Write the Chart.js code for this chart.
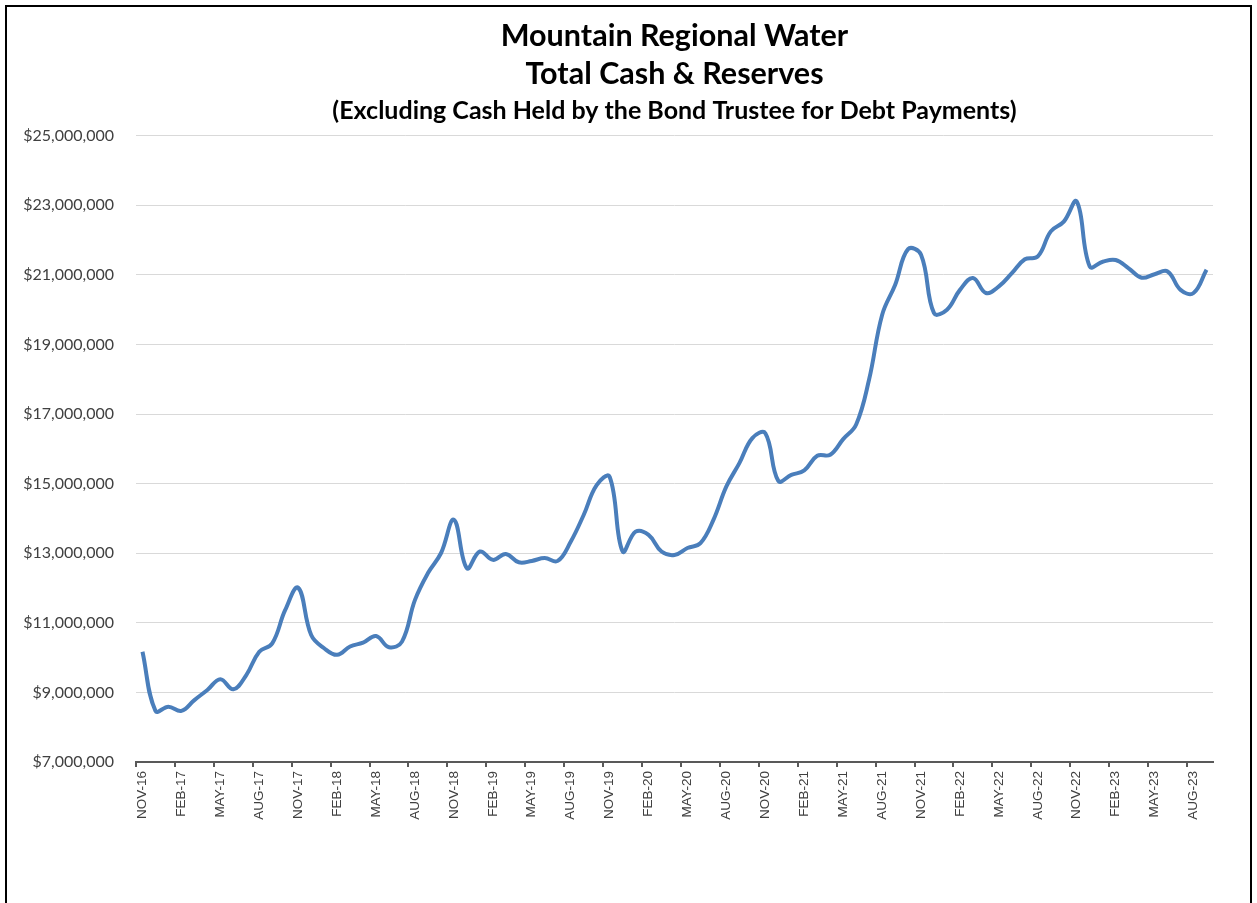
<!DOCTYPE html>
<html>
<head>
<meta charset="utf-8">
<script src="https://cdn.jsdelivr.net/npm/chart.js@4.4.1/dist/chart.umd.min.js"></script>
<style>
  body { margin: 0; background: #fff; overflow: hidden; }
  #frame { position: absolute; left: 5px; top: 5px; width: 1243px; height: 950px; border: 2px solid #000; }
  #wrap { position: absolute; left: 0; top: 0; width: 1257px; height: 903px; }
</style>
</head>
<body>
<div id="frame"></div>
<div id="wrap"><canvas id="graficoCaja"></canvas></div>
<script>
// meses (categorias)
const meses = [
  'NOV-16','DEC-16','JAN-17','FEB-17','MAR-17','APR-17','MAY-17','JUN-17','JUL-17','AUG-17','SEP-17','OCT-17',
  'NOV-17','DEC-17','JAN-18','FEB-18','MAR-18','APR-18','MAY-18','JUN-18','JUL-18','AUG-18','SEP-18','OCT-18',
  'NOV-18','DEC-18','JAN-19','FEB-19','MAR-19','APR-19','MAY-19','JUN-19','JUL-19','AUG-19','SEP-19','OCT-19',
  'NOV-19','DEC-19','JAN-20','FEB-20','MAR-20','APR-20','MAY-20','JUN-20','JUL-20','AUG-20','SEP-20','OCT-20',
  'NOV-20','DEC-20','JAN-21','FEB-21','MAR-21','APR-21','MAY-21','JUN-21','JUL-21','AUG-21','SEP-21','OCT-21',
  'NOV-21','DEC-21','JAN-22','FEB-22','MAR-22','APR-22','MAY-22','JUN-22','JUL-22','AUG-22','SEP-22','OCT-22',
  'NOV-22','DEC-22','JAN-23','FEB-23','MAR-23','APR-23','MAY-23','JUN-23','JUL-23','AUG-23','SEP-23'
];

// efectivo y reservas, en dolares
const efectivoReservas = [
  10170000, 8470000, 8590000, 8470000, 8780000, 9070000, 9380000, 9090000, 9500000, 10170000, 10410000, 11370000,
  12010000, 10650000, 10270000, 10080000, 10320000, 10430000, 10620000, 10300000, 10460000, 11660000, 12430000, 13000000,
  13960000, 12570000, 13050000, 12810000, 12980000, 12740000, 12780000, 12860000, 12780000, 13330000, 14100000, 14960000,
  15200000, 13050000, 13620000, 13530000, 13050000, 12950000, 13150000, 13290000, 13960000, 14920000, 15590000, 16310000,
  16450000, 15080000, 15250000, 15380000, 15800000, 15830000, 16280000, 16700000, 18000000, 19850000, 20710000, 21740000,
  21580000, 19900000, 20000000, 20570000, 20910000, 20480000, 20670000, 21050000, 21450000, 21530000, 22250000, 22530000,
  23110000, 21240000, 21380000, 21430000, 21190000, 20920000, 21020000, 21100000, 20570000, 20480000, 21150000
];

// eje y
const ejeYMin = 7000000;
const ejeYMax = 25000000;
const ejeYPaso = 2000000;

const titulo = ['Mountain Regional Water', 'Total Cash & Reserves'];
const subtitulo = '(Excluding Cash Held by the Bond Trustee for Debt Payments)';

const ctxCaja = document.getElementById('graficoCaja');

let cajaChart = new Chart(ctxCaja, {
    type: 'line',
    data: {
        labels: meses,
        datasets: [{
            label: 'Total Cash & Reserves',
            data: efectivoReservas,
            borderColor: '#4a7ebb',
            borderWidth: 4,
            pointRadius: 0,
            tension: 0.4,
            fill: false
        }]
    },
    options: {
        responsive: true,
        maintainAspectRatio: false,
        animation: false,
        layout: {
            padding: { left: 6, right: 44, top: 0, bottom: 71 }
        },
        plugins: {
            legend: { display: false },
            tooltip: { enabled: false },
            title: {
                display: true,
                fullSize: false,
                text: titulo,
                color: '#000',
                font: { family: 'Lato', size: 30.5, weight: 'bold', lineHeight: 1.25 },
                padding: { top: 17, bottom: 4 }
            },
            subtitle: {
                display: true,
                fullSize: false,
                text: subtitulo,
                color: '#000',
                font: { family: 'Lato', size: 25, weight: 'bold', lineHeight: 1.1 },
                padding: { top: 0, bottom: 11 }
            }
        },
        scales: {
            x: {
                offset: true,
                afterFit: (scale) => { scale.height = 70; },
                border: { display: true, color: '#595959', width: 2 },
                grid: {
                    offset: true,
                    drawOnChartArea: false,
                    drawTicks: true,
                    tickLength: 5,
                    lineWidth: 2,
                    color: (ctx) => (ctx.index !== undefined && ctx.index % 3 === 0) ? '#595959' : 'rgba(0,0,0,0)'
                },
                ticks: {
                    autoSkip: false,
                    minRotation: 90,
                    maxRotation: 90,
                    padding: 4,
                    color: '#404040',
                    font: { family: 'Liberation Sans', size: 13.5 },
                    callback: function(value, index) {
                        return index % 3 === 0 ? meses[index] : '';
                    }
                }
            },
            y: {
                min: ejeYMin,
                max: ejeYMax,
                afterFit: (scale) => { scale.width = 130; },
                border: { display: false },
                grid: {
                    color: '#d9d9d9',
                    lineWidth: 1,
                    drawTicks: false
                },
                ticks: {
                    stepSize: ejeYPaso,
                    padding: 22,
                    color: '#404040',
                    font: { family: 'Lato', size: 16 },
                    callback: (v) => '$' + v.toLocaleString('en-US')
                }
            }
        }
    }
});
</script>
</body>
</html>
